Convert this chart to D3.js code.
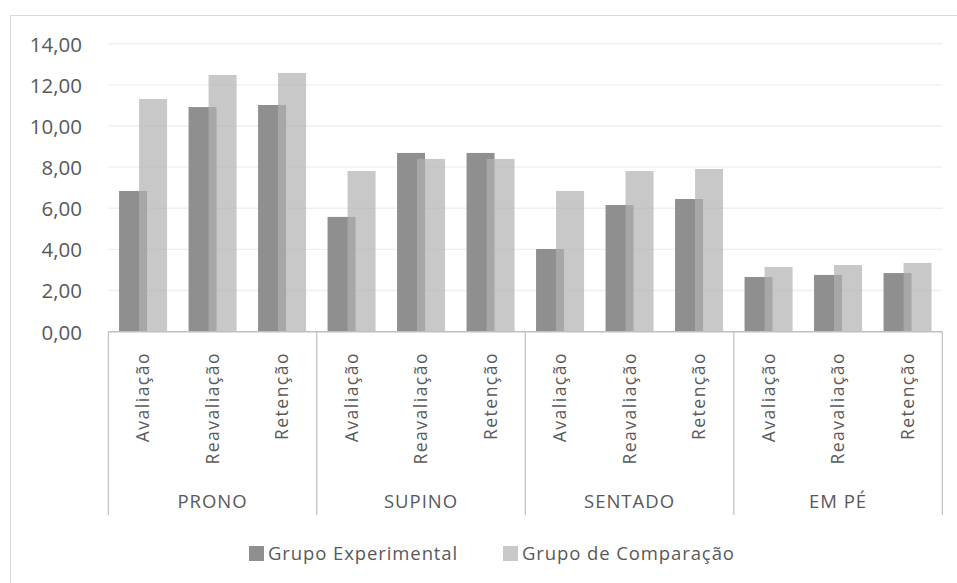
<!DOCTYPE html>
<html>
<head>
<meta charset="utf-8">
<script src="https://cdn.jsdelivr.net/npm/d3@7"></script>
<style>
  html, body { margin: 0; padding: 0; background: #fff; }
  svg { display: block; }
  text { fill: #595959; }
</style>
</head>
<body>
<svg id="chart" width="957" height="583"></svg>
<script>
// Posture groups and assessment moments
const groups = ["PRONO", "SUPINO", "SENTADO", "EM PÉ"];
const phases = ["Avaliação", "Reavaliação", "Retenção"];
const seriesNames = ["Grupo Experimental", "Grupo de Comparação"];

// Mean scores, one value per group × phase
const experimental = [6.84, 10.92, 11.02, 5.58, 8.69, 8.69, 4.02, 6.16, 6.45, 2.66, 2.76, 2.85];
const comparacao   = [11.31, 12.48, 12.58, 7.81, 8.40, 8.40, 6.84, 7.81, 7.91, 3.15, 3.24, 3.34];

const yTicks = [0, 2, 4, 6, 8, 10, 12, 14];

const svg = d3.select("#chart");
const plot = { left: 108.3, right: 942.3, top: 43.7, bottom: 331.7 };
const font = "'Open Sans', sans-serif";

// outer chart frame
svg.append("rect")
  .attr("x", 10.5).attr("y", 15.5)
  .attr("width", 960).attr("height", 600)
  .attr("fill", "none").attr("stroke", "#d9d9d9").attr("stroke-width", 1);

const cats = [];
groups.forEach(g => phases.forEach(p => cats.push(g + "|" + p)));

const x = d3.scaleBand().domain(cats).range([plot.left, plot.right]).paddingInner(0).paddingOuter(0);
const y = d3.scaleLinear().domain([0, 14]).range([plot.bottom, plot.top]);
const fmt = v => d3.format(".2f")(v).replace(".", ",");

// horizontal gridlines
svg.append("g").selectAll("line").data(yTicks.slice(1)).join("line")
  .attr("x1", plot.left).attr("x2", plot.right)
  .attr("y1", d => y(d)).attr("y2", d => y(d))
  .attr("stroke", "#efefef").attr("stroke-width", 1.4);

// y axis labels
const yAxis = d3.axisLeft(y).tickValues(yTicks).tickFormat(fmt).tickSize(0).tickPadding(0);
const yg = svg.append("g").attr("transform", `translate(82,0)`).call(yAxis);
yg.select(".domain").remove();
yg.selectAll("text")
  .attr("font-family", font)
  .attr("font-size", 20.5)
  .attr("fill", "#595959")
  .attr("dy", "0.36em");

const barW = 28;
const step = x.bandwidth();

// experimental group bars (opaque)
svg.append("g").selectAll("rect").data(experimental).join("rect")
  .attr("x", (d, i) => x(cats[i]) + step / 2 - 24)
  .attr("y", d => y(d))
  .attr("width", barW)
  .attr("height", d => y(0) - y(d))
  .attr("fill", "#8f8f8f");

// comparison group bars (translucent, overlapping)
svg.append("g").selectAll("rect").data(comparacao).join("rect")
  .attr("x", (d, i) => x(cats[i]) + step / 2 - 4)
  .attr("y", d => y(d))
  .attr("width", barW)
  .attr("height", d => y(0) - y(d))
  .attr("fill", "#b0b0b0")
  .attr("fill-opacity", 0.7);

// category axis: baseline and group separators
const axisCol = "#bfbfbf";
svg.append("line")
  .attr("x1", plot.left).attr("x2", plot.right)
  .attr("y1", plot.bottom).attr("y2", plot.bottom)
  .attr("stroke", axisCol).attr("stroke-width", 1.5);

const sepX = d3.range(groups.length + 1).map(i =>
  i < groups.length ? x(groups[i] + "|" + phases[0]) : plot.right);
svg.append("g").selectAll("line").data(sepX).join("line")
  .attr("x1", d => d).attr("x2", d => d)
  .attr("y1", plot.bottom).attr("y2", 515)
  .attr("stroke", axisCol).attr("stroke-width", 1.2);

// rotated phase labels
svg.append("g").selectAll("text").data(cats).join("text")
  .attr("transform", d => `translate(${x(d) + step / 2},352) rotate(-90)`)
  .attr("text-anchor", "end")
  .attr("dy", "0.36em")
  .attr("font-family", font)
  .attr("font-size", 17.5)
  .attr("letter-spacing", 1.5)
  .text(d => d.split("|")[1]);

// group labels
svg.append("g").selectAll("text").data(groups).join("text")
  .attr("x", (g, i) => (sepX[i] + sepX[i + 1]) / 2)
  .attr("y", 508)
  .attr("text-anchor", "middle")
  .attr("font-family", font)
  .attr("font-size", 18.5)
  .attr("letter-spacing", 1)
  .text(d => d);

// legend
const legendCols = ["#8f8f8f", "#c8c8c8"];
const legendX = [249, 503];
const lg = svg.append("g").selectAll("g").data(seriesNames).join("g")
  .attr("transform", (d, i) => `translate(${legendX[i]},546)`);
lg.append("rect").attr("width", 15).attr("height", 15).attr("fill", (d, i) => legendCols[i]);
lg.append("text")
  .attr("x", 19).attr("y", 14)
  .attr("font-family", font)
  .attr("font-size", 18.5)
  .attr("letter-spacing", 0.9)
  .text(d => d);
</script>
</body>
</html>
